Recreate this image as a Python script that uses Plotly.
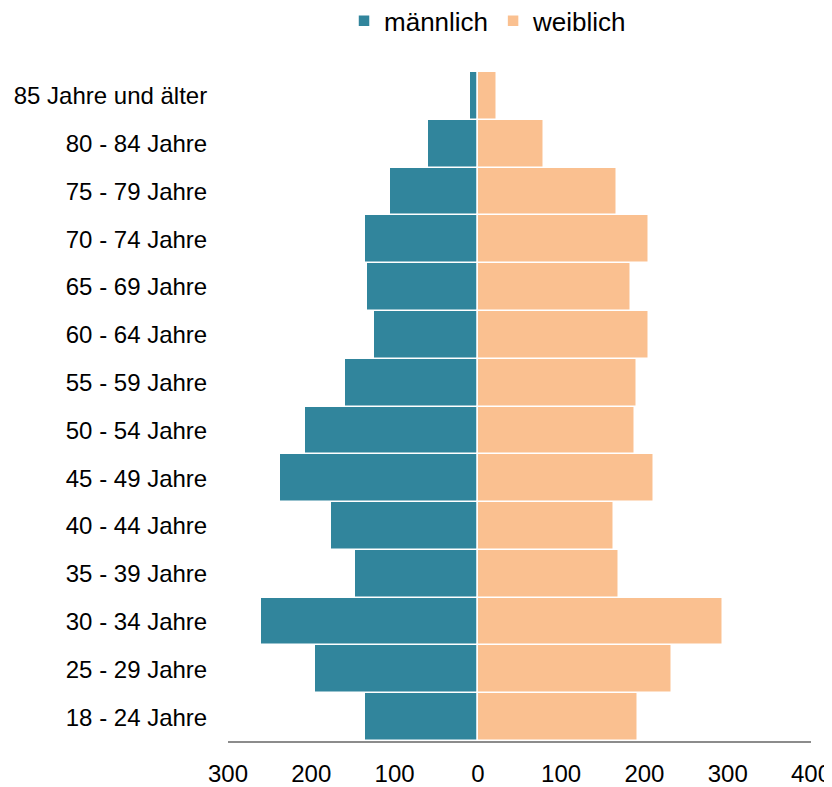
import plotly.graph_objects as go

age_groups = ["18 - 24 Jahre", "25 - 29 Jahre", "30 - 34 Jahre", "35 - 39 Jahre",
              "40 - 44 Jahre", "45 - 49 Jahre", "50 - 54 Jahre", "55 - 59 Jahre",
              "60 - 64 Jahre", "65 - 69 Jahre", "70 - 74 Jahre", "75 - 79 Jahre",
              "80 - 84 Jahre", "85 Jahre und älter"]
maennlich = [136, 196, 260, 148, 176, 238, 207, 160, 125, 133, 135, 105, 60, 9]
weiblich = [192, 233, 294, 169, 164, 211, 189, 191, 205, 184, 206, 167, 80, 23]

tick_vals = [-300, -200, -100, 0, 100, 200, 300, 400]
tick_text = ["300", "200", "100", "0", "100", "200", "300", "400"]

male_color = "#31859C"
female_color = "#FAC090"
font_family = "Liberation Sans, Arial, sans-serif"

fig = go.Figure()
fig.add_trace(go.Bar(
    y=age_groups, x=[-v for v in maennlich], orientation="h", name="männlich",
    marker=dict(color=male_color, line=dict(color="white", width=1.5)),
))
fig.add_trace(go.Bar(
    y=age_groups, x=weiblich, orientation="h", name="weiblich",
    marker=dict(color=female_color, line=dict(color="white", width=1.5)),
))

fig.update_layout(
    width=832, height=787,
    margin=dict(l=220, r=29, t=64, b=54, autoexpand=False),
    barmode="relative", bargap=0,
    plot_bgcolor="white", paper_bgcolor="white",
    font=dict(family=font_family, size=24, color="#000000"),
    legend=dict(orientation="h", x=0.446, xanchor="center",
                y=1.0765, yanchor="middle", yref="paper",
                font=dict(size=26), itemwidth=30, traceorder="normal"),
    showlegend=True,
)
fig.update_xaxes(
    range=[-300, 400], tickvals=tick_vals, ticktext=tick_text, automargin=False,
    showgrid=False, zeroline=True, zerolinecolor="#8C8C8C", zerolinewidth=2,
    showline=True, linecolor="#8C8C8C", linewidth=2,
    ticks="outside", ticklen=10, tickcolor="rgba(0,0,0,0)",
)
fig.update_yaxes(
    categoryorder="array", categoryarray=age_groups, automargin=False,
    showgrid=False, showline=False,
    ticks="outside", ticklen=15, tickcolor="rgba(0,0,0,0)",
)

fig.write_html("out.html")
